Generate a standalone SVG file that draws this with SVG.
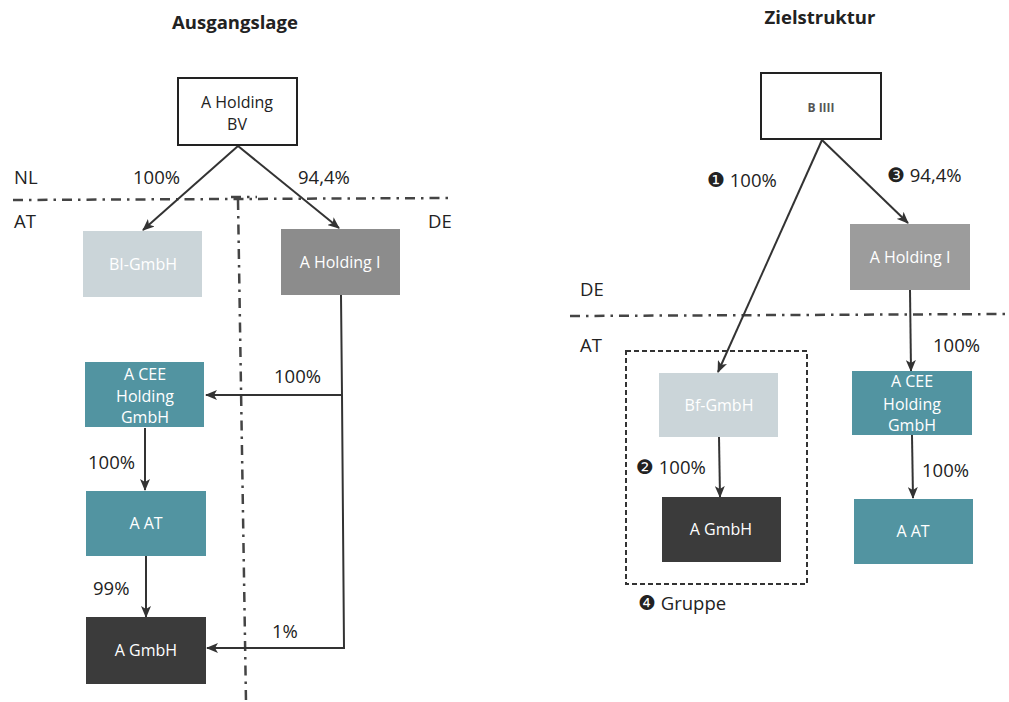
<svg xmlns="http://www.w3.org/2000/svg" width="1009" height="702" viewBox="0 0 1009 702">
<defs>
<marker id="arr" viewBox="0 0 12 10" refX="11" refY="5" markerWidth="12" markerHeight="10" markerUnits="userSpaceOnUse" orient="auto">
<path d="M0,0 L12,5 L0,10 L3,5 z" fill="#333"/>
</marker>
<style>
.t{font-family:"Open Sans","Liberation Sans",sans-serif;font-size:18.5px;fill:#222}
.title{font-family:"Open Sans","Liberation Sans",sans-serif;font-size:18.5px;font-weight:bold;fill:#222}
.n{font-family:"Open Sans","Liberation Sans",sans-serif;font-size:16px;fill:#fff;text-anchor:middle}
.nd{font-family:"Open Sans","Liberation Sans",sans-serif;font-size:16px;fill:#222;text-anchor:middle}
.c{font-family:"DejaVu Sans",sans-serif;font-size:20px}
.w{fill:#fff;stroke:#222;stroke-width:2}
.lb{fill:#cbd5d9}
.gr{fill:#8c8c8c}
.gr2{fill:#9c9c9c}
.tl{fill:#5294a1}
.dk{fill:#3b3b3b}
.ln{fill:none;stroke:#333;stroke-width:2}
.dd{fill:none;stroke:#444;stroke-width:2.5;stroke-dasharray:10 6 2.5 6}
</style>
</defs>
<rect width="1009" height="702" fill="#fff"/>

<text class="title" x="235" y="29" text-anchor="middle">Ausgangslage</text>
<text class="title" x="820" y="24" text-anchor="middle">Zielstruktur</text>

<g id="borders">
<path class="dd" d="M13,200 L452,198"/>
<path class="dd" d="M231,197 L257,197"/>
<path class="dd" d="M238,200 L246,702"/>
<path class="dd" d="M570,316 L1009,314"/>
</g>

<g id="country-labels">
<text class="t" x="14" y="184">NL</text>
<text class="t" x="14" y="228">AT</text>
<text class="t" x="428" y="228">DE</text>
<text class="t" x="580" y="296">DE</text>
<text class="t" x="580" y="352">AT</text>
</g>

<g id="group4">
<rect x="626" y="351" width="181" height="233" fill="none" stroke="#333" stroke-width="2" stroke-dasharray="5 3"/>
<text class="t" x="638" y="610"><tspan class="c">❹</tspan> Gruppe</text>
</g>

<g id="connectors">
<path class="ln" d="M238,146 L143,230" marker-end="url(#arr)"/>
<path class="ln" d="M238,146 L339,228" marker-end="url(#arr)"/>
<path class="ln" d="M341,295 L342,395 L206,395" marker-end="url(#arr)"/>
<path class="ln" d="M342,395 L344,648 L207,648" marker-end="url(#arr)"/>
<path class="ln" d="M145,428 L145,490" marker-end="url(#arr)"/>
<path class="ln" d="M146,556 L146,617" marker-end="url(#arr)"/>
<path class="ln" d="M822,140 L718,372" marker-end="url(#arr)"/>
<path class="ln" d="M822,140 L908,223" marker-end="url(#arr)"/>
<path class="ln" d="M910,290 L911,371" marker-end="url(#arr)"/>
<path class="ln" d="M912,435 L913,498" marker-end="url(#arr)"/>
<path class="ln" d="M719,437 L720,497" marker-end="url(#arr)"/>
</g>

<g id="edge-labels">
<text class="t" x="133" y="184">100%</text>
<text class="t" x="298" y="184">94,4%</text>
<text class="t" x="274" y="383">100%</text>
<text class="t" x="88" y="469">100%</text>
<text class="t" x="93" y="595">99%</text>
<text class="t" x="272" y="638">1%</text>
<text class="t" x="707" y="187"><tspan class="c">❶</tspan> 100%</text>
<text class="t" x="887" y="182"><tspan class="c">❸</tspan> 94,4%</text>
<text class="t" x="933" y="352">100%</text>
<text class="t" x="922" y="477">100%</text>
<text class="t" x="636" y="474"><tspan class="c">❷</tspan> 100%</text>
</g>

<g id="n-a-holding-bv">
<rect class="w" x="178" y="78" width="119" height="67"/>
<text class="nd" x="237" y="108">A Holding</text>
<text class="nd" x="237" y="130">BV</text>
</g>
<g id="n-bi-gmbh-left">
<rect class="lb" x="83" y="231" width="119" height="66"/>
<text class="n" x="143" y="270" fill="#eef2f3">BI-GmbH</text>
</g>
<g id="n-a-holding-i-left">
<rect class="gr" x="281" y="229" width="119" height="66"/>
<text class="n" x="340" y="268">A Holding I</text>
</g>
<g id="n-a-cee-left">
<rect class="tl" x="85" y="362" width="119" height="65"/>
<text class="n" x="145" y="380">A CEE</text>
<text class="n" x="145" y="402">Holding</text>
<text class="n" x="145" y="423">GmbH</text>
</g>
<g id="n-a-at-left">
<rect class="tl" x="86" y="491" width="120" height="65"/>
<text class="n" x="146" y="529">A AT</text>
</g>
<g id="n-a-gmbh-left">
<rect class="dk" x="86" y="617" width="120" height="67"/>
<text class="n" x="146" y="656">A GmbH</text>
</g>

<g id="n-b-iiii">
<rect class="w" x="761" y="73" width="120" height="66"/>
<text x="821" y="112" text-anchor="middle" style="font-family:'Open Sans','Liberation Sans',sans-serif;font-size:12px;font-weight:bold;fill:#555">B IIII</text>
</g>
<g id="n-a-holding-i-right">
<rect class="gr2" x="850" y="224" width="120" height="66"/>
<text class="n" x="910" y="263" fill="#eee">A Holding I</text>
</g>
<g id="n-a-cee-right">
<rect class="tl" x="852" y="371" width="120" height="64"/>
<text class="n" x="912" y="387">A CEE</text>
<text class="n" x="912" y="410">Holding</text>
<text class="n" x="912" y="431">GmbH</text>
</g>
<g id="n-a-at-right">
<rect class="tl" x="854" y="499" width="119" height="65"/>
<text class="n" x="913" y="537">A AT</text>
</g>
<g id="n-bi-gmbh-right">
<rect class="lb" x="659" y="373" width="119" height="64"/>
<text class="n" x="719" y="411" fill="#eef2f3">Bf-GmbH</text>
</g>
<g id="n-a-gmbh-right">
<rect class="dk" x="662" y="497" width="119" height="65"/>
<text class="n" x="721" y="535">A GmbH</text>
</g>
</svg>
